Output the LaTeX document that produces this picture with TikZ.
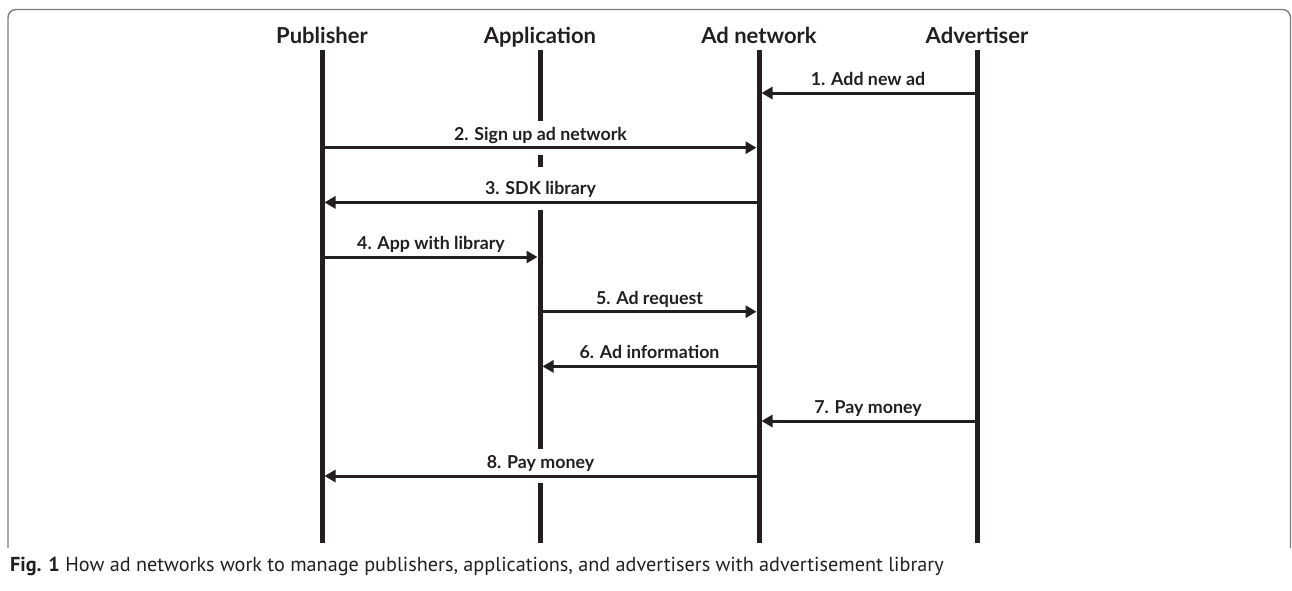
\documentclass[tikz,border=0pt]{standalone}
\usepackage{fontspec}
\setmainfont{Lato}
\newfontfamily\capfont{PT Sans}
\usetikzlibrary{arrows.meta}
\definecolor{ink}{HTML}{231F20}
\definecolor{framegray}{HTML}{7D7D7D}
\begin{document}
\begin{tikzpicture}[x=1pt,y=-1pt,
  life/.style={line width=5pt, draw=ink},
  msg/.style={line width=3pt, draw=ink, -{Triangle[length=11pt,width=12pt]}, shorten >=2.5pt},
  lbl/.style={font=\bfseries\fontsize{17.8}{18}\selectfont, text=ink, anchor=base, inner sep=0pt, yshift=7.6pt},
  head/.style={font=\bfseries\fontsize{22}{22}\selectfont, text=ink, anchor=base, inner sep=0pt},
  gapbox/.style={fill=white, draw=none},
  capstyle/.style={font=\capfont\fontsize{20.2}{21}\selectfont, text=ink, anchor=base west, inner sep=0pt}]
\useasboundingbox (0,0) rectangle (1292,590);
% frame
\draw[framegray, line width=1.4pt, rounded corners=8pt] (8,548) -- (8,9.5) -- (1290.5,9.5) -- (1290.5,548);
% headers
\node[head] (pub) at (322,43.3) {Publisher};
\node[head] (app) at (540,43.3) {Application};
\node[head] (net) at (759,43.3) {Ad network};
\node[head] (adv) at (977,43.3) {Advertiser};
% lifeline ends
\coordinate (P) at (322,50);  \coordinate (Pb) at (322,543);
\coordinate (A) at (540,50);  \coordinate (Ab) at (540,543);
\coordinate (N) at (759,50);  \coordinate (Nb) at (759,543);
\coordinate (V) at (977,50);  \coordinate (Vb) at (977,543);
\draw[life] (P) -- (Pb);
\draw[life] (A) -- (Ab);
\draw[life] (N) -- (Nb);
\draw[life] (V) -- (Vb);
% rows
\coordinate (r1) at (0,93);
\coordinate (r2) at (0,147.7);
\coordinate (r3) at (0,202.4);
\coordinate (r4) at (0,257);
\coordinate (r5) at (0,311.7);
\coordinate (r6) at (0,366.4);
\coordinate (r7) at (0,421);
\coordinate (r8) at (0,476);
% gaps in application lifeline
\fill[gapbox] (534,121) rectangle (546,155);
\fill[gapbox] (534,167) rectangle (546,210);
\fill[gapbox] (534,449) rectangle (546,483);
% messages
\draw[msg] (V |- r1) -- node[lbl] {1. Add new ad} (N |- r1);
\draw[msg] (P |- r2) -- node[lbl] {2. Sign up ad network} (N |- r2);
\draw[msg] (N |- r3) -- node[lbl] {3. SDK library} (P |- r3);
\draw[msg] (P |- r4) -- node[lbl] {4. App with library} (A |- r4);
\draw[msg] (A |- r5) -- node[lbl] {5. Ad request} (N |- r5);
\draw[msg] (N |- r6) -- node[lbl] {6. Ad information} (A |- r6);
\draw[msg] (V |- r7) -- node[lbl] {7. Pay money} (N |- r7);
\draw[msg] (N |- r8) -- node[lbl] {8. Pay money} (P |- r8);
% caption
\node[capstyle] (cap) at (10,571) {{\bfseries Fig. 1} How ad networks work to manage publishers, applications, and advertisers with advertisement library};
\end{tikzpicture}
\end{document}
